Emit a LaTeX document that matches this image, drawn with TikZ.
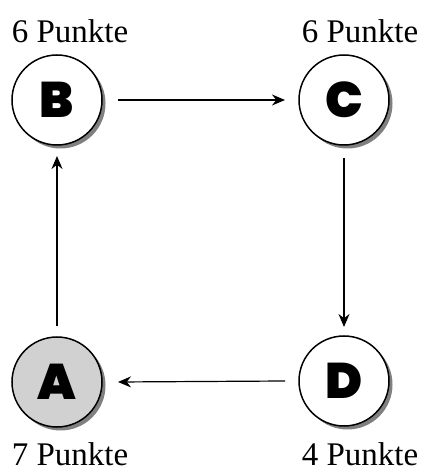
\documentclass[tikz,border=0pt]{standalone}
\usepackage{fontspec}
\setmainfont{Liberation Serif}
\newfontfamily\letterfont{Poppins Black}
\usetikzlibrary{shadows,arrows.meta}
\begin{document}
\begin{tikzpicture}[x=1pt,y=1pt,
  station/.style={circle, draw, line width=1.5pt, fill=white, minimum size=90pt,
    inner sep=0pt, font=\letterfont\fontsize{50}{50}\selectfont,
    drop shadow={shadow xshift=3.5pt, shadow yshift=-3.5pt, fill=black!50, opacity=1}},
  start/.style={station, fill=black!18},
  lbl/.style={font=\fontsize{33}{33}\selectfont, inner sep=0pt},
  link/.style={line width=1.2pt, -{Stealth[length=13pt, width=11pt]}}]
\useasboundingbox (0,0) rectangle (424,473);
\node[start]   (A) at (57,91)  {A};
\node[station] (B) at (57,373) {B};
\node[station] (C) at (344,373) {C};
\node[station] (D) at (344,92)  {D};
\node[lbl] (lB) at (70,442) {6 Punkte};
\node[lbl] (lC) at (360,442) {6 Punkte};
\node[lbl] (lA) at (70,19)  {7 Punkte};
\node[lbl] (lD) at (360,19) {4 Punkte};
\draw[link] ([xshift=61pt]B.center) -- ([xshift=-59pt]C.center);
\draw[link] ([yshift=-58pt]C.center) -- ([yshift=54pt]D.center);
\draw[link] ([xshift=-59pt]D.center) -- ([xshift=61pt]A.center);
\draw[link] ([yshift=56pt]A.center) -- ([yshift=-56pt]B.center);
\end{tikzpicture}
\end{document}
